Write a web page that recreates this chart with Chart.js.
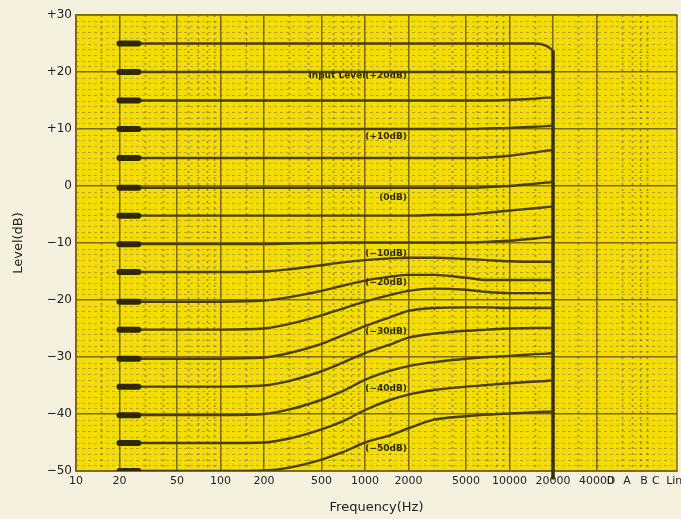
<!DOCTYPE html>
<html>
<head>
<meta charset="utf-8">
<title>Level vs Frequency</title>
<script src="https://cdn.jsdelivr.net/npm/chart.js@4.4.1/dist/chart.umd.min.js"></script>
<style>
  html, body { margin: 0; padding: 0; background: #f6f0de; }
  canvas { display: block; }
</style>
</head>
<body>
<canvas id="levelChart" width="681" height="519"></canvas>
<script>
// sweep frequencies (Hz) shared by every trace
const freqs = [20, 100, 200, 300, 500, 700, 1000, 1500, 2000, 3000, 5000, 7000, 10000, 15000, 18000, 20000];

// output level (dB) of each trace, input +25 dB down to -50 dB in 5 dB steps
const tracePlus25  = [25, 25, 25, 25, 25, 25, 25, 25, 25, 25, 25, 25, 25, 25, 24.6, 23.8];
const tracePlus20  = [20, 20, 20, 20, 20, 20, 20, 20, 20, 20, 20, 20, 20, 20, 20, 20];
const tracePlus15  = [15, 15, 15, 15, 15, 15, 15, 15, 15, 15, 15, 15, 15.1, 15.3, 15.5, 15.5];
const tracePlus10  = [10, 10, 10, 10, 10, 10, 10, 10, 10, 10, 10, 10.1, 10.2, 10.4, 10.5, 10.6];
const tracePlus5   = [4.9, 4.9, 4.9, 4.9, 4.9, 4.9, 4.9, 4.9, 4.9, 4.9, 4.9, 5.0, 5.3, 5.9, 6.2, 6.3];
const trace0       = [-0.3, -0.3, -0.3, -0.3, -0.3, -0.3, -0.3, -0.3, -0.3, -0.3, -0.3, -0.2, 0, 0.4, 0.6, 0.7];
const traceMinus5  = [-5.2, -5.2, -5.2, -5.2, -5.2, -5.2, -5.2, -5.2, -5.2, -5.1, -5.0, -4.7, -4.3, -3.9, -3.7, -3.6];
const traceMinus10 = [-10.2, -10.2, -10.2, -10.1, -10, -9.9, -9.9, -9.9, -9.9, -9.9, -9.9, -9.8, -9.6, -9.2, -9.0, -8.9];
const traceMinus15 = [-15.1, -15.1, -15.0, -14.6, -13.9, -13.4, -13.0, -12.7, -12.6, -12.6, -12.8, -13.0, -13.2, -13.3, -13.3, -13.3];
const traceMinus20 = [-20.3, -20.3, -20.1, -19.5, -18.4, -17.5, -16.6, -15.9, -15.6, -15.6, -16.1, -16.5, -16.5, -16.5, -16.5, -16.5];
const traceMinus25 = [-25.2, -25.2, -25.0, -24.2, -22.7, -21.5, -20.3, -19.1, -18.4, -18.0, -18.2, -18.6, -18.8, -18.8, -18.8, -18.8];
const traceMinus30 = [-30.3, -30.3, -30.1, -29.3, -27.7, -26.2, -24.6, -23.0, -21.9, -21.4, -21.3, -21.3, -21.4, -21.4, -21.4, -21.4];
const traceMinus35 = [-35.2, -35.2, -35.0, -34.2, -32.5, -31.0, -29.3, -27.8, -26.6, -25.9, -25.4, -25.2, -25.0, -24.9, -24.9, -24.9];
const traceMinus40 = [-40.2, -40.2, -40.0, -39.2, -37.5, -36.0, -34.0, -32.4, -31.6, -30.9, -30.3, -30.0, -29.8, -29.5, -29.4, -29.3];
const traceMinus45 = [-45.1, -45.1, -45.0, -44.3, -42.7, -41.3, -39.3, -37.5, -36.6, -35.8, -35.2, -34.9, -34.6, -34.3, -34.2, -34.1];
const traceMinus50 = [-50.0, -50.0, -49.9, -49.4, -48.0, -46.7, -45.0, -43.7, -42.5, -41.0, -40.4, -40.1, -39.9, -39.7, -39.6, -39.6];

const traces = [tracePlus25, tracePlus20, tracePlus15, tracePlus10, tracePlus5, trace0, traceMinus5, traceMinus10,
  traceMinus15, traceMinus20, traceMinus25, traceMinus30, traceMinus35, traceMinus40, traceMinus45, traceMinus50];

// the recorder pen rests a moment at the start of each sweep, and drops at the end
const penStart = [20, 27];
const penDropFreq = 20000;
const penDropBottom = -51.5;

// x axis: frequency ticks, then the weighting filter positions
const xTickValues = [10, 20, 50, 100, 200, 500, 1000, 2000, 5000, 10000, 20000, 40000, 50400, 65000, 85300, 103000, 138000];
const xTickLabels = ['10', '20', '50', '100', '200', '500', '1000', '2000', '5000', '10000', '20000', '40000', 'D', 'A', 'B', 'C', 'Lin'];
const yTickValues = [-50, -40, -30, -20, -10, 0, 10, 20, 30];

// trace notes printed on the chart paper (right aligned at noteFreq)
const noteTexts = ['Input Level(+20dB)', '(+10dB)', '(0dB)', '(\u221210dB)', '(\u221220dB)', '(\u221230dB)', '(\u221240dB)', '(\u221250dB)'];
const noteLevels = [19.4, 8.6, -2.1, -11.8, -17.0, -25.6, -35.6, -46.1];
const noteFreq = 1950;

const PAPER = '#f4dc06';
const GRID = '#7a6b08';
const INK = '#4a3f06';

const paperPlugin = {
  id: 'paper',
  beforeDraw(chart) {
    const { ctx, chartArea: a, scales: { x, y } } = chart;
    ctx.save();
    ctx.fillStyle = '#f6f0de';
    ctx.fillRect(0, 0, chart.width, chart.height);
    ctx.fillStyle = PAPER;
    ctx.fillRect(a.left, a.top, a.right - a.left, a.bottom - a.top);

    // minor vertical lines
    ctx.strokeStyle = 'rgba(95, 82, 0, 0.6)';
    ctx.lineWidth = 1.5;
    ctx.setLineDash([2, 4]);
    for (let dec = 10; dec <= 100000; dec *= 10) {
      [1.5, 3, 4, 6, 7, 8, 9].forEach(m => {
        const px = Math.round(x.getPixelForValue(m * dec)) + 0.5;
        if (px <= a.left + 1 || px >= a.right - 1) return;
        ctx.beginPath();
        ctx.moveTo(px, a.top);
        ctx.lineTo(px, a.bottom);
        ctx.stroke();
      });
    }
    // minor horizontal lines every dB
    ctx.strokeStyle = 'rgba(110, 95, 0, 0.45)';
    ctx.lineWidth = 1;
    ctx.setLineDash([3, 3]);
    for (let v = -49; v < 30; v++) {
      if (v % 10 === 0) continue;
      const py = Math.round(y.getPixelForValue(v)) + 0.5;
      ctx.beginPath();
      ctx.moveTo(a.left, py);
      ctx.lineTo(a.right, py);
      ctx.stroke();
    }
    ctx.restore();
  },
  beforeDatasetsDraw(chart) {
    const { ctx, chartArea: a } = chart;
    ctx.save();
    ctx.strokeStyle = GRID;
    ctx.lineWidth = 1.5;
    ctx.strokeRect(a.left, a.top, a.right - a.left, a.bottom - a.top);
    ctx.restore();
  },
  afterDatasetsDraw(chart) {
    const { ctx, scales: { x, y } } = chart;
    ctx.save();
    ctx.font = 'bold 9px "DejaVu Sans"';
    ctx.fillStyle = '#2e2a10';
    ctx.textAlign = 'right';
    ctx.textBaseline = 'middle';
    noteTexts.forEach((t, i) => {
      ctx.fillText(t, x.getPixelForValue(noteFreq), y.getPixelForValue(noteLevels[i]));
    });
    ctx.restore();
  }
};

const datasets = [];
traces.forEach(t => {
  datasets.push({
    data: penStart.map(f => ({ x: f, y: t[0] })),
    borderColor: '#2f2804',
    borderWidth: 6,
    borderCapStyle: 'round',
    pointRadius: 0
  });
  datasets.push({
    data: freqs.map((f, i) => ({ x: f, y: t[i] })),
    borderColor: INK,
    borderWidth: 2.4,
    cubicInterpolationMode: 'monotone',
    pointRadius: 0
  });
});
datasets.push({
  data: [{ x: penDropFreq, y: tracePlus25[tracePlus25.length - 1] }, { x: penDropFreq, y: penDropBottom }],
  borderColor: '#3b3004',
  borderWidth: 3.5,
  pointRadius: 0,
  clip: false
});

Chart.defaults.font.family = '"DejaVu Sans", sans-serif';
Chart.defaults.color = '#222';

new Chart(document.getElementById('levelChart').getContext('2d'), {
  type: 'line',
  data: { datasets },
  plugins: [paperPlugin],
  options: {
    responsive: false,
    animation: false,
    devicePixelRatio: 1,
    layout: { padding: { top: 15, right: 4, left: 0, bottom: 0 } },
    plugins: { legend: { display: false }, tooltip: { enabled: false } },
    scales: {
      x: {
        type: 'logarithmic',
        min: 10,
        max: 144200,
        afterBuildTicks: scale => { scale.ticks = xTickValues.map(v => ({ value: v })); },
        afterFit: scale => { scale.height = 48; scale.paddingLeft = 0; scale.paddingRight = 0; },
        ticks: {
          autoSkip: false,
          maxRotation: 0,
          minRotation: 0,
          padding: 4,
          font: { size: 11 },
          callback: (v, i) => xTickLabels[i]
        },
        grid: {
          drawTicks: false,
          color: c => (c.index < 12 ? GRID : 'rgba(0,0,0,0)'),
          lineWidth: 1.5
        },
        border: { display: true, color: GRID, width: 1.5 },
        title: { display: true, text: 'Frequency(Hz)', font: { size: 13 }, padding: { top: 0, bottom: 4 } }
      },
      y: {
        type: 'linear',
        min: -50,
        max: 30,
        afterBuildTicks: scale => { scale.ticks = yTickValues.map(v => ({ value: v })); },
        afterFit: scale => { scale.width = 76; scale.paddingTop = 0; scale.paddingBottom = 0; },
        ticks: {
          padding: 4,
          font: { size: 12 },
          callback: v => (v > 0 ? '+' + v : v < 0 ? '\u2212' + (-v) : '0')
        },
        grid: { drawTicks: false, color: GRID, lineWidth: 1.5 },
        border: { display: true, color: GRID, width: 1.5 },
        title: { display: true, text: 'Level(dB)', font: { size: 13 }, padding: { top: 11, bottom: 0 } }
      }
    }
  }
});
</script>
</body>
</html>
